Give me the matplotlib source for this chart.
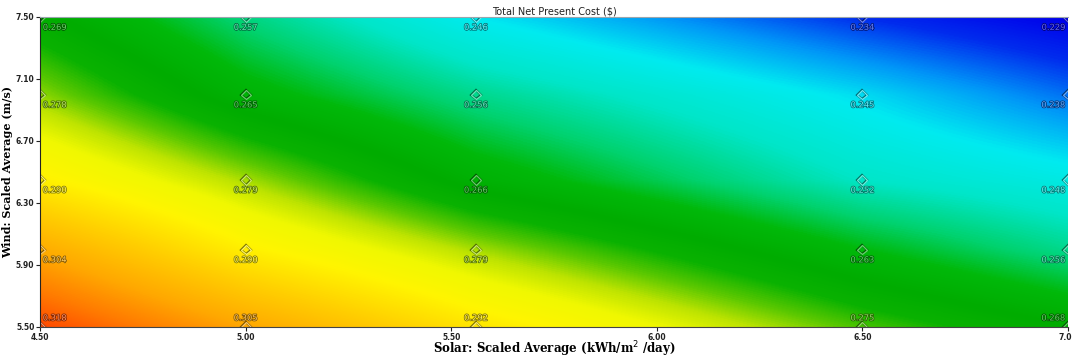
import numpy as np
import matplotlib
matplotlib.use('AGG')
import matplotlib.pyplot as plt
import matplotlib.patheffects as pe
from matplotlib.colors import LinearSegmentedColormap

# sensitivity grid
solar = [4.50, 5.00, 5.56, 6.50, 7.00]
wind = [5.50, 6.00, 6.45, 7.00, 7.50]
# rows follow wind (bottom to top), columns follow solar
npc = [
    [0.318, 0.305, 0.292, 0.275, 0.268],
    [0.304, 0.290, 0.279, 0.263, 0.256],
    [0.290, 0.279, 0.266, 0.252, 0.248],
    [0.278, 0.265, 0.256, 0.245, 0.238],
    [0.269, 0.257, 0.246, 0.234, 0.229],
]
xticks = [4.50, 5.00, 5.50, 6.00, 6.50, 7.00]
yticks = [5.50, 5.90, 6.30, 6.70, 7.10, 7.50]

# colour scale anchors (value, colour)
anchors = [
    (0.229, (0, 0, 235)), (0.234, (0, 45, 238)), (0.240, (0, 150, 248)),
    (0.246, (0, 235, 240)), (0.252, (0, 230, 200)), (0.258, (0, 210, 110)),
    (0.263, (0, 185, 10)), (0.268, (0, 172, 0)), (0.272, (10, 178, 0)),
    (0.276, (90, 200, 0)), (0.280, (190, 228, 0)), (0.284, (240, 248, 0)),
    (0.289, (255, 245, 0)), (0.297, (255, 205, 0)), (0.305, (255, 168, 0)),
    (0.312, (255, 122, 0)), (0.318, (255, 75, 0)),
]
vmin, vmax = anchors[0][0], anchors[-1][0]
cmap = LinearSegmentedColormap.from_list(
    'homer', [((v - vmin) / (vmax - vmin), tuple(c / 255 for c in rgb)) for v, rgb in anchors])

Z = np.array(npc)
xs = np.linspace(solar[0], solar[-1], 800)
ys = np.linspace(wind[0], wind[-1], 300)
# separable bilinear fill between grid points
rows = np.array([np.interp(xs, solar, r) for r in Z])
fine = np.array([np.interp(ys, wind, rows[:, j]) for j in range(len(xs))]).T

fig = plt.figure(figsize=(10.72, 3.58), dpi=100)
ax = fig.add_axes([40 / 1072, 1 - 327 / 358, 1028 / 1072, 310 / 358])
ax.imshow(fine, cmap=cmap, vmin=vmin, vmax=vmax, origin='lower', aspect='auto',
          interpolation='bilinear', extent=(solar[0], solar[-1], wind[0], wind[-1]))
ax.set_xlim(4.5, 7.0)
ax.set_ylim(5.5, 7.5)

for i, w in enumerate(wind):
    for j, s in enumerate(solar):
        v = npc[i][j]
        c = np.array(cmap((v - vmin) / (vmax - vmin))[:3])
        light = 0.6 * c + 0.4
        dark = 0.5 * c
        ax.plot(s, w, marker='D', ms=5, mfc='none', mec=light, mew=0.9,
                clip_on=True, path_effects=[pe.Stroke(linewidth=1.6, foreground=dark), pe.Normal()])
        if j == 0:
            ha, dx = 'left', 2
        elif j == len(solar) - 1:
            ha, dx = 'right', -2
        else:
            ha, dx = 'center', 0
        dy = 6.5 if i == 0 else -7.5
        ax.annotate('%.3f' % v, (s, w), xytext=(dx, dy), textcoords='offset points',
                    ha=ha, va='center', fontsize=6, color=light,
                    path_effects=[pe.withStroke(linewidth=1.1, foreground=dark)])

ax.set_xticks(xticks)
ax.set_xticklabels(['%.2f' % t for t in xticks])
ax.set_yticks(yticks)
ax.set_yticklabels(['%.2f' % t for t in yticks])
ax.tick_params(labelsize=5.5, length=3, width=0.8, colors='#222222', pad=1)
for lab in ax.get_xticklabels() + ax.get_yticklabels():
    lab.set_fontweight('bold')
ax.spines['top'].set_color('#9aa5ad')
ax.spines['right'].set_visible(False)
ax.spines['left'].set_color('#222222')
ax.spines['bottom'].set_color('#444444')

ax.set_title('Total Net Present Cost (\\$)', fontsize=7, pad=2, color='#222222')
ax.set_xlabel('Solar: Scaled Average (kWh/m$^{\\mathsf{2}}$ /day)', family='DejaVu Serif',
              fontweight='bold', fontsize=8.5)
ax.xaxis.set_label_coords(0.5, -0.041)
ax.set_ylabel('Wind: Scaled Average (m/s)', family='DejaVu Serif',
              fontweight='bold', fontsize=8)
ax.yaxis.set_label_coords(-0.026, 0.5)

plt.savefig('out.png', dpi=100)
